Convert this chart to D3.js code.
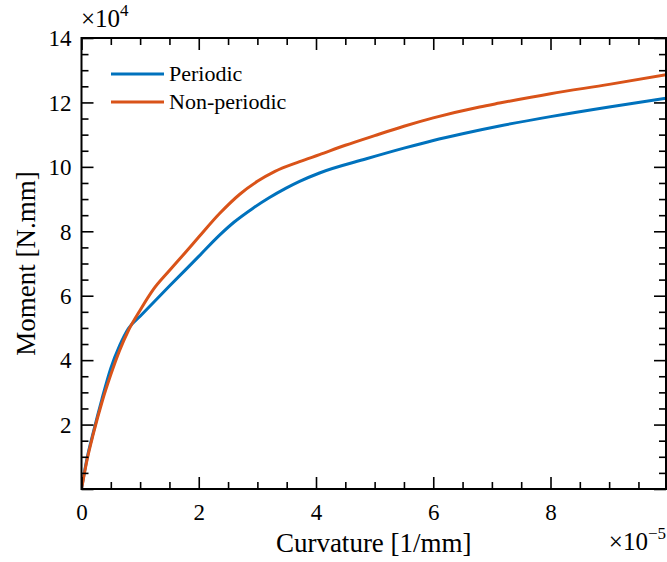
<!DOCTYPE html>
<html>
<head>
<meta charset="utf-8">
<script src="https://cdn.jsdelivr.net/npm/d3@7"></script>
<style>
  html, body { margin: 0; padding: 0; background: #fff; }
  svg { display: block; }
  text { font-family: "Liberation Serif", "Times New Roman", serif; fill: #000; }
</style>
</head>
<body>
<svg id="chart" width="667" height="562"></svg>
<script>
// Curvature in units of 1e-5 [1/mm], Moment in units of 1e4 [N.mm]
const periodicX = [0, 0.1, 0.2, 0.35, 0.5, 0.65, 0.8, 1.0, 1.5, 2.0, 2.355, 2.6, 2.92, 3.2, 3.49, 3.72, 4.06, 4.86, 5.5, 6.0, 6.5, 7.13, 8.0, 9.0, 9.97];
const periodicY = [0, 1.0, 1.75, 2.8, 3.75, 4.45, 4.98, 5.36, 6.3, 7.22, 7.88, 8.28, 8.71, 9.04, 9.34, 9.55, 9.81, 10.25, 10.58, 10.82, 11.03, 11.27, 11.56, 11.86, 12.13];
const nonPeriodicX = [0, 0.1, 0.2, 0.35, 0.5, 0.65, 0.8, 1.0, 1.22, 1.5, 1.79, 2.0, 2.355, 2.7, 3.0, 3.3, 3.72, 4.06, 4.5, 5.0, 5.5, 6.0, 6.79, 7.13, 8.0, 9.0, 9.97];
const nonPeriodicY = [0, 0.95, 1.7, 2.7, 3.55, 4.3, 4.92, 5.55, 6.18, 6.78, 7.38, 7.82, 8.55, 9.15, 9.55, 9.86, 10.16, 10.38, 10.67, 10.97, 11.26, 11.52, 11.86, 11.98, 12.27, 12.56, 12.86];
const seriesNames = ["Periodic", "Non-periodic"];
const seriesColors = ["#0072BD", "#D95319"];
const xTickValues = [0, 2, 4, 6, 8];
const yTickValues = [2, 4, 6, 8, 10, 12, 14];
const xDomain = [0, 9.97];
const yDomain = [0, 14];

const svg = d3.select("#chart");
const m = { left: 81.5, right: 666, top: 38, bottom: 489 };
const x = d3.scaleLinear().domain(xDomain).range([m.left, m.right]);
const y = d3.scaleLinear().domain(yDomain).range([m.bottom, m.top]);

const series = [
  periodicX.map((v, i) => [v, periodicY[i]]),
  nonPeriodicX.map((v, i) => [v, nonPeriodicY[i]])
];

svg.append("clipPath").attr("id", "clip").append("rect")
  .attr("x", m.left).attr("y", m.top)
  .attr("width", m.right - m.left).attr("height", m.bottom - m.top);

const line = d3.line().x(d => x(d[0])).y(d => y(d[1])).curve(d3.curveMonotoneX);

const g = svg.append("g").attr("clip-path", "url(#clip)");
series.forEach((s, i) => {
  g.append("path").datum(s)
    .attr("fill", "none")
    .attr("stroke", seriesColors[i])
    .attr("stroke-width", 3)
    .attr("stroke-linejoin", "round")
    .attr("d", line);
});

// minor ticks
const xMinor = d3.range(0, 10, 0.5).filter(v => v <= xDomain[1] && !xTickValues.includes(v));
const yMinor = d3.range(0, 14.01, 0.5).filter(v => !yTickValues.includes(v) && v !== 0);
const majorLen = 12, minorLen = 7;

function inwardAxis(axisGen, transform) {
  const a = svg.append("g").attr("transform", transform).call(axisGen);
  a.attr("font-family", null);
  a.select(".domain").remove();
  a.selectAll(".tick line").attr("stroke", "#000").attr("stroke-width", 1.6);
  return a;
}

// bottom major with labels
const bAx = inwardAxis(d3.axisBottom(x).tickValues(xTickValues).tickSizeInner(-majorLen).tickSizeOuter(0).tickPadding(0).tickFormat(d3.format("d")), `translate(0,${m.bottom})`);
bAx.selectAll(".tick text").attr("y", 0).attr("dy", "1.33em").style("font-size", "23px");
// bottom minor
inwardAxis(d3.axisBottom(x).tickValues(xMinor).tickSizeInner(-minorLen).tickSizeOuter(0).tickFormat(""), `translate(0,${m.bottom})`);
// top
inwardAxis(d3.axisTop(x).tickValues(xTickValues).tickSizeInner(-majorLen).tickSizeOuter(0).tickFormat(""), `translate(0,${m.top})`);
inwardAxis(d3.axisTop(x).tickValues(xMinor).tickSizeInner(-minorLen).tickSizeOuter(0).tickFormat(""), `translate(0,${m.top})`);
// left
const lAx = inwardAxis(d3.axisLeft(y).tickValues([0].concat(yTickValues)).tickSizeInner(-majorLen).tickSizeOuter(0).tickPadding(0).tickFormat(d => d === 0 ? "" : d3.format("d")(d)), `translate(${m.left},0)`);
lAx.selectAll(".tick text").attr("x", -10).attr("dy", "0.34em").style("font-size", "23px");
inwardAxis(d3.axisLeft(y).tickValues(yMinor).tickSizeInner(-minorLen).tickSizeOuter(0).tickFormat(""), `translate(${m.left},0)`);
// right
inwardAxis(d3.axisRight(y).tickValues([0].concat(yTickValues)).tickSizeInner(-majorLen).tickSizeOuter(0).tickFormat(""), `translate(${m.right},0)`);
inwardAxis(d3.axisRight(y).tickValues(yMinor).tickSizeInner(-minorLen).tickSizeOuter(0).tickFormat(""), `translate(${m.right},0)`);

// frame
svg.append("rect")
  .attr("x", m.left).attr("y", m.top)
  .attr("width", m.right - m.left).attr("height", m.bottom - m.top)
  .attr("fill", "none").attr("stroke", "#000").attr("stroke-width", 2);

// axis titles
svg.append("text")
  .attr("x", (m.left + m.right) / 2).attr("y", 552)
  .attr("text-anchor", "middle")
  .style("font-size", "27px")
  .text("Curvature [1/mm]");

svg.append("text")
  .attr("transform", `translate(35,${(m.top + m.bottom) / 2}) rotate(-90)`)
  .attr("text-anchor", "middle")
  .style("font-size", "27px")
  .text("Moment [N.mm]");

// exponent labels
const topExp = svg.append("text").attr("x", 81).attr("y", 27).style("font-size", "25px");
topExp.append("tspan").text("×10");
topExp.append("tspan").attr("dy", -11).style("font-size", "17px").text("4");

const botExp = svg.append("text").attr("x", 666).attr("y", 550).attr("text-anchor", "end").style("font-size", "25px");
botExp.append("tspan").text("×10");
botExp.append("tspan").attr("dy", -11).style("font-size", "17px").text("−5");

// legend
const legend = svg.append("g");
const legendYs = [74, 102];
seriesNames.forEach((name, i) => {
  legend.append("line")
    .attr("x1", 111).attr("x2", 164)
    .attr("y1", legendYs[i]).attr("y2", legendYs[i])
    .attr("stroke", seriesColors[i]).attr("stroke-width", 3);
  legend.append("text")
    .attr("x", 169).attr("y", legendYs[i] + 7)
    .style("font-size", "22px")
    .text(name);
});
</script>
</body>
</html>
